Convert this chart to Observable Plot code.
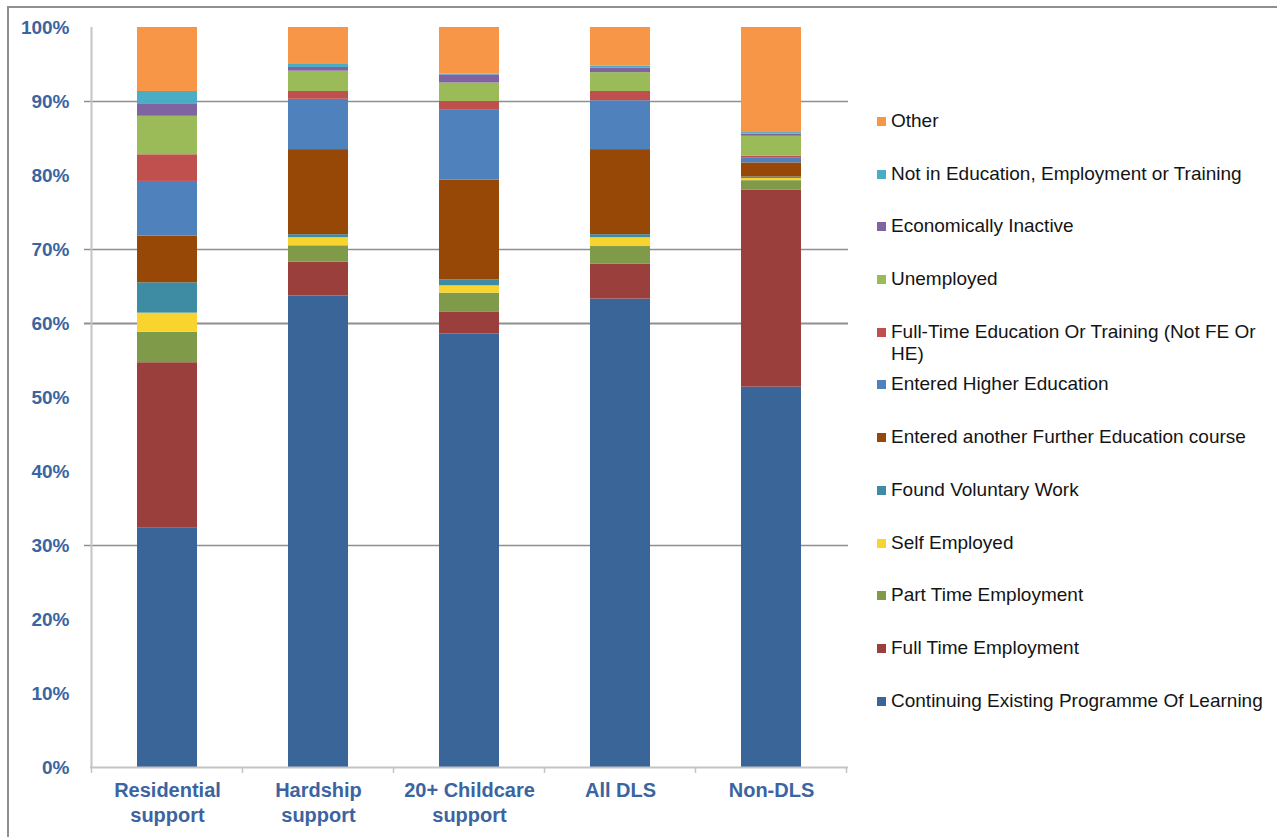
<!DOCTYPE html>
<html>
<head>
<meta charset="utf-8">
<script src="https://cdn.jsdelivr.net/npm/d3@7"></script>
<script src="https://cdn.jsdelivr.net/npm/@observablehq/plot@0.6"></script>
<style>
  html, body { margin: 0; padding: 0; background: #fff; }
  body { width: 1277px; height: 837px; position: relative; overflow: hidden; font-family: "Liberation Sans", Arial, sans-serif; }
  #frame { position: absolute; left: 7px; top: 6px; width: 1290px; height: 850px; border-left: 2px solid #8f8f8f; border-top: 2px solid #8f8f8f; }
  #chart { position: absolute; left: 0; top: 0; }
  #legend { position: absolute; left: 877px; top: 110px; width: 395px; }
  .item { height: 52.7px; display: flex; align-items: flex-start; }
  .sw { width: 9px; height: 9px; margin-top: 7px; margin-right: 5px; flex: none; }
  .lab { font-size: 19px; line-height: 22px; color: #141414; width: 380px; }
</style>
</head>
<body>
<div id="frame"></div>
<div id="chart"></div>
<div id="legend"></div>
<script>
// ---- data ----
const categories = ["Residential support", "Hardship support", "20+ Childcare support", "All DLS", "Non-DLS"];
const outcomes = [
  "Continuing Existing Programme Of Learning",
  "Full Time Employment",
  "Part Time Employment",
  "Self Employed",
  "Found Voluntary Work",
  "Entered another Further Education course",
  "Entered Higher Education",
  "Full-Time Education Or Training (Not FE Or HE)",
  "Unemployed",
  "Economically Inactive",
  "Not in Education, Employment or Training",
  "Other"
];
const colors = ["#3A6598", "#9B3F3D", "#7F9A48", "#F9D42F", "#3D8CA3", "#974806",
                "#4F81BD", "#C0504D", "#9BBB59", "#8064A2", "#4BACC6", "#F79646"];

// percentages per category (same order as categories)
const continuing = [32.4, 63.7, 58.6, 63.3, 51.4];
const fullTimeEmployment = [22.3, 4.6, 2.9, 4.7, 26.6];
const partTimeEmployment = [4.1, 2.2, 2.6, 2.4, 1.3];
const selfEmployed = [2.6, 1.1, 1.0, 1.2, 0.3];
const voluntaryWork = [4.1, 0.4, 0.8, 0.4, 0.2];
const furtherEducation = [6.3, 11.5, 13.5, 11.5, 1.9];
const higherEducation = [7.4, 6.8, 9.5, 6.6, 0.7];
const fullTimeEducation = [3.6, 1.05, 1.1, 1.25, 0.2];
const unemployed = [5.2, 2.75, 2.5, 2.55, 2.7];
const economicallyInactive = [1.6, 0.5, 1.1, 0.6, 0.3];
const neet = [1.75, 0.5, 0.1, 0.3, 0.2];
const other = [8.65, 4.9, 6.3, 5.2, 14.2];

const yTicks = [0, 10, 20, 30, 40, 50, 60, 70, 80, 90, 100];
const gridLines = [30, 60, 70, 90];

// ---- table for Plot ----
const series = [continuing, fullTimeEmployment, partTimeEmployment, selfEmployed, voluntaryWork,
  furtherEducation, higherEducation, fullTimeEducation, unemployed, economicallyInactive, neet, other];
const table = [];
series.forEach((vals, i) => vals.forEach((v, j) => table.push({category: categories[j], outcome: outcomes[i], value: v})));

const blue = "#3B64A0";
const chart = Plot.plot({
  width: 860,
  height: 837,
  marginLeft: 90,
  marginRight: 12,
  marginTop: 27,
  marginBottom: 70,
  style: {fontFamily: "'Liberation Sans', Arial, sans-serif", background: "transparent", overflow: "visible"},
  x: {domain: categories, paddingInner: 0.6, paddingOuter: 0.3, label: null},
  y: {domain: [0, 100], label: null},
  color: {domain: outcomes, range: colors},
  marks: [
    Plot.ruleY(gridLines, {stroke: "#8f8f8f", strokeWidth: d => d === 60 ? 2.2 : 1.4, insetLeft: -6}),
    Plot.barY(table, {x: "category", y: "value", fill: "outcome", order: outcomes}),
    Plot.ruleY([0], {stroke: "#c4c4c4", strokeWidth: 2}),
    Plot.axisY({ticks: yTicks, tickSize: 0, tickPadding: 21, tickFormat: d => d + "%",
      fill: blue, fontWeight: "bold", fontSize: 19}),
    Plot.axisX({tickSize: 0, tickPadding: 12, fill: blue, fontWeight: "bold", fontSize: 20,
      lineHeight: 1.25, tickFormat: d => d.replace(" support", "\nsupport")})
  ]
});
document.getElementById("chart").appendChild(chart);

// axis line and category separator ticks derived from the scales
const xs = chart.scale("x"), ys = chart.scale("y");
const y0 = ys.apply(0), y100 = ys.apply(100);
const half = (xs.step - xs.bandwidth) / 2;
const ns = "http://www.w3.org/2000/svg";
function line(x1, y1, x2, y2, stroke, w) {
  const l = document.createElementNS(ns, "line");
  l.setAttribute("x1", x1); l.setAttribute("y1", y1);
  l.setAttribute("x2", x2); l.setAttribute("y2", y2);
  l.setAttribute("stroke", stroke); l.setAttribute("stroke-width", w);
  chart.appendChild(l);
}
const bounds = categories.map(c => xs.apply(c) - half);
bounds.push(xs.apply(categories[categories.length - 1]) + xs.bandwidth + half);
line(bounds[0], y100, bounds[0], y0, "#c4c4c4", 2);
bounds.forEach(b => line(b, y0, b, y0 + 6, "#c4c4c4", 1.5));

// legend (top entry = last stacked series)
const legend = document.getElementById("legend");
outcomes.slice().reverse().forEach(name => {
  const item = document.createElement("div");
  item.className = "item";
  const sw = document.createElement("div");
  sw.className = "sw";
  sw.style.background = colors[outcomes.indexOf(name)];
  const lab = document.createElement("div");
  lab.className = "lab";
  lab.textContent = name;
  item.appendChild(sw); item.appendChild(lab);
  legend.appendChild(item);
});
</script>
</body>
</html>
